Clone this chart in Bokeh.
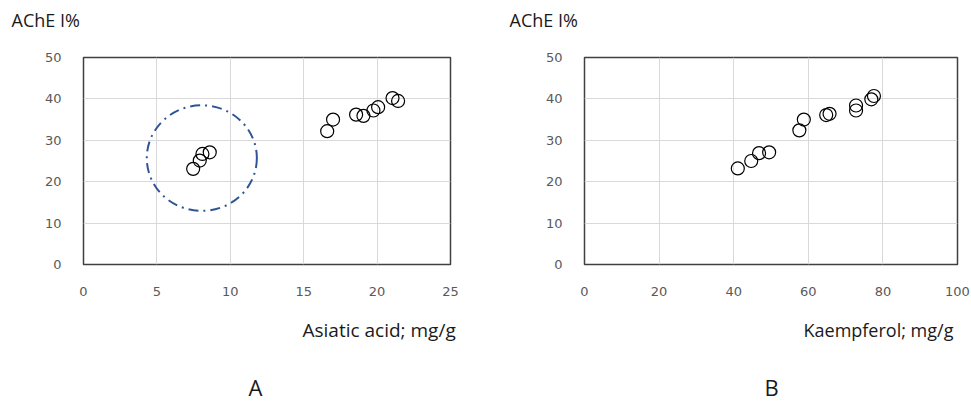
from bokeh.plotting import figure
from bokeh.layouts import row, column
from bokeh.models import Range1d, FixedTicker
from bokeh.core.properties import value
from bokeh.embed import file_html
from bokeh.resources import INLINE

# ---- data ----
asiatic_x = [7.47, 7.92, 8.10, 8.60, 16.6, 17.0, 18.57, 19.07, 19.75, 20.07, 21.05, 21.43]
asiatic_y = [23.1, 25.1, 26.7, 27.1, 32.2, 35.0, 36.2, 35.9, 37.2, 38.0, 40.2, 39.5]

kaempferol_x = [41.1, 44.7, 46.8, 49.5, 57.6, 58.8, 64.8, 65.7, 72.8, 72.8, 76.9, 77.6]
kaempferol_y = [23.2, 25.0, 26.9, 27.1, 32.4, 35.0, 36.1, 36.4, 38.4, 37.2, 39.9, 40.7]

# highlighted cluster (dash-dot circle) in panel A
cluster_x = [8.06]
cluster_y = [25.7]
cluster_w = [7.5]
cluster_h = [25.5]

a_xticks = [0, 5, 10, 15, 20, 25]
b_xticks = [0, 20, 40, 60, 80, 100]
yticks = [0, 10, 20, 30, 40, 50]

y_labels = ["AChE I%", "AChE I%"]
a_xlabel = "Asiatic acid; mg/g"
b_xlabel = "Kaempferol; mg/g"
panel_tags = ["A", "B"]

TICK_FONT = "DejaVu Sans"
LABEL_FONT = "Open Sans"
W = 971
TOP_H, PLOT_H, BOT_H = 40, 270, 95
FRAME_TOP, FH = 17, 207


def strip(height):
    s = figure(width=W, height=height, output_backend="svg", toolbar_location=None,
               tools="", x_range=Range1d(0, W), y_range=Range1d(height, 0),
               x_axis_location=None, y_axis_location=None, min_border=0,
               min_border_left=0, min_border_right=0, min_border_top=0,
               min_border_bottom=0, outline_line_color=None,
               background_fill_color="white", border_fill_color="white")
    s.grid.visible = False
    return s


def make_panel(width, left, fw, xmax, xticks):
    p = figure(width=width, height=PLOT_H, output_backend="svg", toolbar_location=None,
               tools="", x_range=Range1d(0, xmax), y_range=Range1d(0, 50),
               min_border_left=left, min_border_right=width - left - fw,
               min_border_top=FRAME_TOP, min_border_bottom=PLOT_H - FRAME_TOP - FH,
               background_fill_color="white", border_fill_color="white")
    p.outline_line_color = "#404040"
    p.outline_line_width = 1.5
    for ax in (p.xaxis, p.yaxis):
        ax.axis_line_color = None
        ax.major_tick_line_color = None
        ax.minor_tick_line_color = None
        ax.major_tick_out = 0
        ax.major_tick_in = 0
        ax.minor_tick_out = 0
        ax.minor_tick_in = 0
        ax.major_label_text_font = TICK_FONT
        ax.major_label_text_font_size = "13px"
        ax.major_label_text_color = "#595959"
    p.xaxis.ticker = FixedTicker(ticks=xticks)
    p.yaxis.ticker = FixedTicker(ticks=yticks)
    p.xaxis.major_label_standoff = 22
    p.yaxis.major_label_standoff = 22
    p.xgrid.ticker = FixedTicker(ticks=xticks)
    p.ygrid.ticker = FixedTicker(ticks=yticks)
    p.grid.grid_line_color = "#d9d9d9"
    p.grid.grid_line_width = 1
    return p


# Panel A
pa = make_panel(488, 83, 367, 25, a_xticks)
pa.ellipse(x=cluster_x, y=cluster_y, width=cluster_w, height=cluster_h,
           fill_color=None, line_color="#2f5597", line_width=2, line_dash="10 5 2 5")
pa.scatter(asiatic_x, asiatic_y, marker="circle", size=13, fill_color=None,
           line_color="black", line_width=1.2)

# Panel B
pb = make_panel(483, 96, 373, 100, b_xticks)
pb.scatter(kaempferol_x, kaempferol_y, marker="circle", size=13, fill_color=None,
           line_color="black", line_width=1.2)

# top strip: y-axis titles
top = strip(TOP_H)
top.text(x=[11, 509], y=[19, 19], text=y_labels, text_font=value(LABEL_FONT),
         text_font_size=value("18px"), text_color="#1a1a1a",
         text_align="left", text_baseline="middle")

# bottom strip: x-axis titles and panel tags
bot = strip(BOT_H)
bot.text(x=[302], y=[19], text=[a_xlabel], text_font=value(LABEL_FONT),
         text_font_size=value("19px"), text_color="#1a1a1a",
         text_align="left", text_baseline="middle")
bot.text(x=[803], y=[19], text=[b_xlabel], text_font=value(LABEL_FONT),
         text_font_size=value("18px"), text_color="#1a1a1a",
         text_align="left", text_baseline="middle")
bot.text(x=[255, 771], y=[76, 76], text=panel_tags, text_font=value(LABEL_FONT),
         text_font_size=value("22px"), text_color="#1a1a1a",
         text_align="center", text_baseline="middle")

layout = column(top, row(pa, pb), bot)
open("out.html", "w").write(file_html(layout, INLINE))
